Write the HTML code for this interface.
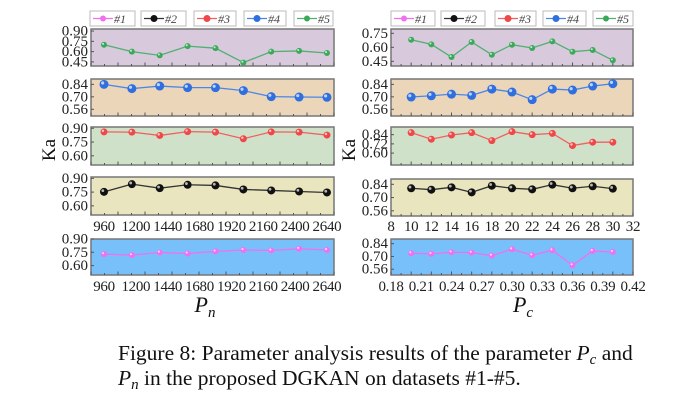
<!DOCTYPE html>
<html><head><meta charset="utf-8"><style>
body{margin:0;background:#fff;width:673px;height:406px;overflow:hidden}
svg{display:block}
text{font-family:"Liberation Serif",serif}
</style></head><body>
<svg id="c" width="673" height="406"></svg>
<script>
const pnValues=[960,1200,1440,1680,1920,2160,2400,2640];
const pnPoints=[960,1170,1380,1590,1800,2010,2220,2430,2640];
const pcPoints=[10,12,14,16,18,20,22,24,26,28,30];
const pcTicks=[8,10,12,14,16,18,20,22,24,26,28,30,32];
const pcTicks2=["0.18","0.21","0.24","0.27","0.30","0.33","0.36","0.39","0.42"];
const L5=[0.70,0.60,0.545,0.68,0.65,0.44,0.60,0.61,0.58];
const L4=[0.84,0.792,0.821,0.803,0.803,0.77,0.702,0.698,0.695];
const L3=[0.861,0.858,0.822,0.864,0.858,0.786,0.861,0.858,0.826];
const L2=[0.753,0.837,0.793,0.830,0.823,0.779,0.768,0.757,0.746];
const L1=[0.73,0.718,0.748,0.737,0.76,0.776,0.771,0.79,0.776];
const R5=[0.681,0.632,0.496,0.657,0.521,0.628,0.593,0.664,0.553,0.571,0.461];
const R4=[0.698,0.712,0.73,0.716,0.787,0.754,0.668,0.787,0.776,0.821,0.847];
const R3=[0.866,0.781,0.836,0.866,0.763,0.879,0.84,0.857,0.698,0.742,0.742];
const R2=[0.798,0.783,0.808,0.755,0.825,0.798,0.787,0.836,0.798,0.819,0.794];
const R1=[0.735,0.728,0.746,0.742,0.709,0.779,0.713,0.768,0.604,0.76,0.749];
const ticksA=[0.90,0.75,0.60,0.45];
const ticksB=[0.84,0.70,0.56];
const ticksC=[0.84,0.72,0.60];
const ticksD=[0.90,0.75,0.60];
const ticksE=[0.75,0.60,0.45];

const NS="http://www.w3.org/2000/svg",svg=document.getElementById('c');
function el(t,a,p){const e=document.createElementNS(NS,t);for(const k in a)e.setAttribute(k,a[k]);(p||svg).appendChild(e);return e;}
const series={1:{c:'#f070f0',r:3},2:{c:'#111',r:4},3:{c:'#f04848',r:3.5},4:{c:'#2f6fe0',r:4.5},5:{c:'#3aaa5a',r:3}};
const lineC={1:'#f070f0',2:'#333',3:'#f06060',4:'#4a86e8',5:'#50b070'};
function panel(name,x0,x1,y0,y1,xd,yd,bg,xs,vals,s,yt,nPts){
  const g=el('g',{});
  const sx=v=>x0+(v-xd[0])/(xd[1]-xd[0])*(x1-x0);
  const sy=v=>y1-(v-yd[0])/(yd[1]-yd[0])*(y1-y0);
  el('rect',{x:x0,y:y0,width:x1-x0,height:y1-y0,fill:bg,stroke:'#777','stroke-width':1.5},g);
  yt.forEach(t=>{const tx=el('text',{x:x0-3,y:sy(t)+4.5,'text-anchor':'end','font-size':15,fill:'#222'},g);tx.textContent=t.toFixed(2);
    el('line',{x1:x0,x2:x0+3,y1:sy(t),y2:sy(t),stroke:'#555'},g);});
  for(let i=0;i<=nPts;i++){const xx=x0+(x1-x0)*i/nPts;el('line',{x1:xx,x2:xx,y1:y1,y2:y1-(i%2?2:3.5),stroke:'#555'},g);}
  const pts=xs.map((v,i)=>sx(v)+','+sy(vals[i])).join(' ');
  el('polyline',{points:pts,fill:'none',stroke:lineC[s],'stroke-width':1.3},g);
  xs.forEach((v,i)=>{const m=el('circle',{cx:sx(v),cy:sy(vals[i]),r:series[s].r,fill:series[s].c},g);
    
    el('circle',{cx:sx(v)-series[s].r*0.3,cy:sy(vals[i])-series[s].r*0.3,r:series[s].r*0.35,fill:'#fff',opacity:0.7},g);});
}
const LX=[862,2693];
const bgs=['#d9c9dd','#ecd6ba','#d0e1ca','#e9e5be','#78c0fa'];
panel('left-panel-5',91,334,29,66,LX,[0.39,0.93],bgs[0],pnPoints,L5,5,ticksA,18);
panel('left-panel-4',91,334,79,116,LX,[0.485,0.90],bgs[1],pnPoints,L4,4,ticksB,18);
panel('left-panel-3',91,334,127,165,LX,[0.50,0.914],bgs[2],pnPoints,L3,3,ticksD,18);
panel('left-panel-2',91,334,177,215,LX,[0.50,0.915],bgs[3],pnPoints,L2,2,ticksD,18);
panel('left-panel-1',91,334,239,275,LX,[0.494,0.90],bgs[4],pnPoints,L1,1,ticksD,18);
const RX=[8,32];
panel('right-panel-5',391,633,29,66,RX,[0.40,0.796],bgs[0],pcPoints,R5,5,ticksE,24);
panel('right-panel-4',391,633,79,116,RX,[0.485,0.90],bgs[1],pcPoints,R4,4,ticksB,24);
panel('right-panel-3',391,633,127,165,RX,[0.445,0.94],bgs[2],pcPoints,R3,3,ticksC,24);
panel('right-panel-2',391,633,179,216,RX,[0.505,0.896],bgs[3],pcPoints,R2,2,ticksB,24);
panel('right-panel-1',391,633,239,275,RX,[0.497,0.891],bgs[4],pcPoints,R1,1,ticksB,24);
function xlabels(arr,x0,x1,y,lo,hi,name){const g=el('g',{});
  arr.forEach(v=>{const n=parseFloat(v);const t=el('text',{x:x0+(n-lo)/(hi-lo)*(x1-x0),y:y,'text-anchor':'middle','font-size':15,'letter-spacing':'-0.3',fill:'#222'},g);t.textContent=v;});}
xlabels(pnValues,91,334,231,LX[0],LX[1],'left-x-ticks-top');
xlabels(pnValues,91,334,291,LX[0],LX[1],'left-x-ticks-bottom');
xlabels(pcTicks,391,633,231,8,32,'right-x-ticks-top');
xlabels(pcTicks2,391,633,291,0.18,0.42,'right-x-ticks-bottom');
function txt(name,x,y,s,a,extra){const t=el('text',Object.assign({x:x,y:y,'font-size':s,fill:'#111','text-anchor':a||'middle'},extra||{}));return t;}
txt('y-axis-title-left',55,150,19,'middle',{transform:'rotate(-90 55 150)'}).textContent='Ka';
txt('y-axis-title-right',355,150,19,'middle',{transform:'rotate(-90 355 150)'}).textContent='Ka';
let t=txt('x-axis-title-left',205,312,22);t.innerHTML='<tspan font-style="italic">P</tspan><tspan font-style="italic" font-size="15" dy="5">n</tspan>';
t=txt('x-axis-title-right',523,312,22);t.innerHTML='<tspan font-style="italic">P</tspan><tspan font-style="italic" font-size="15" dy="5">c</tspan>';
function legend(boxes,side){boxes.forEach((b,i)=>{const s=i+1;const g=el('g',{});
  el('rect',{x:b[0],y:11,width:b[1]-b[0],height:15,fill:'#fff',stroke:'#bbb'},g);
  el('line',{x1:b[0]+3,x2:b[0]+23,y1:18.5,y2:18.5,stroke:lineC[s],'stroke-width':1.3},g);
  el('circle',{cx:b[0]+13,cy:18.5,r:Math.min(series[s].r,3.5),fill:series[s].c},g);
  const tt=el('text',{x:b[0]+24,y:23,'font-size':12,'font-style':'italic',fill:'#444'},g);tt.textContent='#'+s;});}
legend([[90,135],[141,186],[194,236],[244,286],[294,333]],'left');
legend([[391,435],[441,485],[495,536],[543,586],[593,633]],'right');
t=txt('caption-line-1',118,360,21.5,'start');t.innerHTML='Figure 8: Parameter analysis results of the parameter <tspan font-style="italic">P</tspan><tspan font-style="italic" font-size="15" dy="4">c</tspan><tspan dy="-4"> and</tspan>';
t=txt('caption-line-2',118,385,21.5,'start');t.innerHTML='<tspan font-style="italic">P</tspan><tspan font-style="italic" font-size="15" dy="4">n</tspan><tspan dy="-4"> in the proposed DGKAN on datasets #1-#5.</tspan>';
</script>
</body></html>
